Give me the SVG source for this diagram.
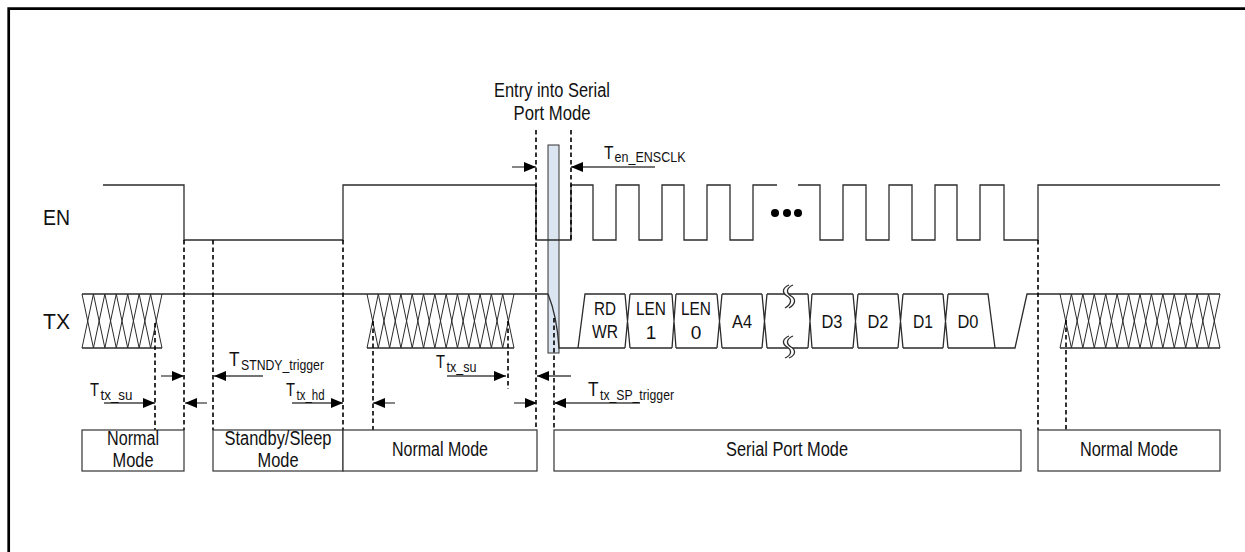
<svg xmlns="http://www.w3.org/2000/svg" width="1245" height="552" viewBox="0 0 1245 552">
<style>
.sig{fill:none;stroke:#2b2b2b;stroke-width:1.3}
.hatch{fill:none;stroke:#2b2b2b;stroke-width:1}
.dash{fill:none;stroke:#000;stroke-width:1.6;stroke-dasharray:4.5 3}
.arr{fill:none;stroke:#444;stroke-width:1.3;marker-end:url(#ah)}
.box{fill:#fff;stroke:#333;stroke-width:1.2}
.t{font-family:"Liberation Sans Narrow","Arial Narrow","Liberation Sans",Arial,sans-serif;fill:#111}
.m{font-size:20px;text-anchor:middle}
.d{font-size:19px;text-anchor:middle}
.T{font-size:18px}
.TL{font-size:21px}
.s{font-size:15px}
</style>
<defs>
<marker id="ah" markerUnits="userSpaceOnUse" viewBox="0 0 12 10" refX="12" refY="5" markerWidth="12" markerHeight="10" orient="auto">
<path d="M0 0 L12 5 L0 10 Z" fill="#000"/>
</marker>
</defs>
<path d="M8.7 552 V8.7 H1245" fill="none" stroke="#000" stroke-width="2.7"/>

<g id="entry-window">
<rect x="548" y="145" width="11" height="208" fill="#dbe5f1" stroke="#333" stroke-width="1"/>
</g>

<g id="signal-labels">
<text class="t" x="43" y="225" font-size="22" textLength="27" lengthAdjust="spacingAndGlyphs">EN</text>
<text class="t" x="43" y="329" font-size="22" textLength="27" lengthAdjust="spacingAndGlyphs">TX</text>
</g>

<g id="en-signal">
<path class="sig" d="M103 185 H184 V240 H343 V185 H536 V240 H571 V185 H593 V240 H616 V185 H639 V240 H662 V185 H684 V240 H707 V185 H730 V240 H753 V185 H777 M798 185 H820 V240 H843 V185 H866 V240 H889 V185 H912 V240 H935 V185 H957 V240 H980 V185 H1004 V240 H1038 V185 H1220"/>
<circle cx="775" cy="213" r="4" fill="#000"/>
<circle cx="787" cy="213" r="4" fill="#000"/>
<circle cx="798" cy="213" r="4" fill="#000"/>
</g>

<g id="tx-signal">
<path class="sig" d="M82 294 H548 M82 348 H162 M367 348 H514 M548 294 Q557 316 559 348 H578"/>
<polyline class="hatch" points="82,294 93.43,348 104.86,294 116.29,348 127.71,294 139.14,348 150.57,294 162,348"/>
<polyline class="hatch" points="82,348 93.43,294 104.86,348 116.29,294 127.71,348 139.14,294 150.57,348 162,294"/>
<polyline class="hatch" points="367,294 378.31,348 389.62,294 400.92,348 412.23,294 423.54,348 434.85,294 446.15,348 457.46,294 468.77,348 480.08,294 491.38,348 502.69,294 514,348"/>
<polyline class="hatch" points="367,348 378.31,294 389.62,348 400.92,294 412.23,348 423.54,294 434.85,348 446.15,294 457.46,348 468.77,294 480.08,348 491.38,294 502.69,348 514,294"/>
<path class="sig" d="M578 348 L585 294 H625 M630 294 H672 M676 294 H717 M722 294 H762 M767 294 H808 M812 294 H853 M858 294 H898 M903 294 H943 M948 294 H988 L995 348 M578 348 H625 M630 348 H672 M676 348 H717 M722 348 H762 M767 348 H808 M812 348 H853 M858 348 H898 M903 348 H943 M948 348 H1015 L1027 294 H1220 M1060 348 H1220 M625 294 L630 348 M625 348 L630 294 M672 294 L676 348 M672 348 L676 294 M717 294 L722 348 M717 348 L722 294 M762 294 L767 348 M762 348 L767 294 M808 294 L812 348 M808 348 L812 294 M853 294 L858 348 M853 348 L858 294 M898 294 L903 348 M898 348 L903 294 M943 294 L948 348 M943 348 L948 294"/>
<polyline class="hatch" points="1060,294 1071.43,348 1082.86,294 1094.29,348 1105.71,294 1117.14,348 1128.57,294 1140,348 1151.43,294 1162.86,348 1174.29,294 1185.71,348 1197.14,294 1208.57,348 1220,294"/>
<polyline class="hatch" points="1060,348 1071.43,294 1082.86,348 1094.29,294 1105.71,348 1117.14,294 1128.57,348 1140,294 1151.43,348 1162.86,294 1174.29,348 1185.71,294 1197.14,348 1208.57,294 1220,348"/>
<path d="M789 285 C782 288 782 293 787 296 C792 299 792 304 785 308 L789 308 C796 304 796 299 791 296 C786 293 786 288 793 285 Z" fill="#fff"/>
<path class="sig" d="M789 285 C782 288 782 293 787 296 C792 299 792 304 785 308 M793 285 C786 288 786 293 791 296 C796 299 796 304 789 308"/>
<path d="M789 336 C782 339 782 344 787 347 C792 350 792 355 785 358 L789 358 C796 355 796 350 791 347 C786 344 786 339 793 336 Z" fill="#fff"/>
<path class="sig" d="M789 336 C782 339 782 344 787 347 C792 350 792 355 785 358 M793 336 C786 339 786 344 791 347 C796 350 796 355 789 358"/>
<text class="t d" x="605" y="315" textLength="22" lengthAdjust="spacingAndGlyphs">RD</text>
<text class="t d" x="605" y="338" textLength="26" lengthAdjust="spacingAndGlyphs">WR</text>
<text class="t d" x="651" y="315" textLength="30" lengthAdjust="spacingAndGlyphs">LEN</text>
<text class="t d" x="651" y="339">1</text>
<text class="t d" x="696" y="315" textLength="30" lengthAdjust="spacingAndGlyphs">LEN</text>
<text class="t d" x="696" y="339">0</text>
<text class="t d" x="742" y="328" textLength="20" lengthAdjust="spacingAndGlyphs">A4</text>
<text class="t d" x="832" y="328" textLength="21" lengthAdjust="spacingAndGlyphs">D3</text>
<text class="t d" x="878" y="328" textLength="21" lengthAdjust="spacingAndGlyphs">D2</text>
<text class="t d" x="923" y="328" textLength="20" lengthAdjust="spacingAndGlyphs">D1</text>
<text class="t d" x="968" y="328" textLength="21" lengthAdjust="spacingAndGlyphs">D0</text>
</g>

<g id="connectors">
<line class="dash" x1="155" y1="323" x2="155" y2="430"/>
<line class="dash" x1="184" y1="240" x2="184" y2="430"/>
<line class="dash" x1="213" y1="240" x2="213" y2="430"/>
<line class="dash" x1="343" y1="240" x2="343" y2="430"/>
<line class="dash" x1="373" y1="321" x2="373" y2="430"/>
<line class="dash" x1="508" y1="321" x2="508" y2="389"/>
<line class="dash" x1="536" y1="130" x2="536" y2="430"/>
<line class="dash" x1="571" y1="130" x2="571" y2="240"/>
<line class="dash" x1="554" y1="318" x2="554" y2="430"/>
<line class="dash" x1="1038" y1="240" x2="1038" y2="430"/>
<line class="dash" x1="1066" y1="320" x2="1066" y2="430"/>
<line class="arr" x1="104" y1="403" x2="155" y2="403"/>
<line class="arr" x1="161" y1="376" x2="184" y2="376"/>
<line class="arr" x1="207" y1="403" x2="185" y2="403"/>
<line class="arr" x1="263" y1="376" x2="214" y2="376"/>
<line class="arr" x1="292" y1="403" x2="343" y2="403"/>
<line class="arr" x1="395" y1="403" x2="373" y2="403"/>
<line class="arr" x1="447" y1="376" x2="506" y2="376"/>
<line class="arr" x1="514" y1="403" x2="537" y2="403"/>
<line class="arr" x1="571" y1="376" x2="537" y2="376"/>
<line class="arr" x1="640" y1="403" x2="554" y2="403"/>
<line class="arr" x1="512" y1="167" x2="536" y2="167"/>
<line class="arr" x1="655" y1="167" x2="571" y2="167"/>
</g>

<g id="timing-labels">
<text class="t m" x="552" y="97" textLength="116" lengthAdjust="spacingAndGlyphs">Entry into Serial</text>
<text class="t m" x="552" y="120" textLength="77" lengthAdjust="spacingAndGlyphs">Port Mode</text>
<text class="t T" x="604" y="159" textLength="9.5" lengthAdjust="spacingAndGlyphs">T</text>
<text class="t s" x="614.5" y="162" textLength="71" lengthAdjust="spacingAndGlyphs">en_ENSCLK</text>
<text class="t TL" x="229" y="366" textLength="10.5" lengthAdjust="spacingAndGlyphs">T</text>
<text class="t s" x="241" y="370" textLength="83" lengthAdjust="spacingAndGlyphs">STNDY_trigger</text>
<text class="t T" x="90" y="396" textLength="9" lengthAdjust="spacingAndGlyphs">T</text>
<text class="t s" x="100.5" y="400" textLength="32" lengthAdjust="spacingAndGlyphs">tx_su</text>
<text class="t T" x="286" y="396" textLength="9" lengthAdjust="spacingAndGlyphs">T</text>
<text class="t s" x="296.5" y="400" textLength="28" lengthAdjust="spacingAndGlyphs">tx_hd</text>
<text class="t T" x="436" y="368" textLength="9" lengthAdjust="spacingAndGlyphs">T</text>
<text class="t s" x="446.5" y="372" textLength="30" lengthAdjust="spacingAndGlyphs">tx_su</text>
<text class="t TL" x="588" y="396" textLength="10.5" lengthAdjust="spacingAndGlyphs">T</text>
<text class="t s" x="600" y="400" textLength="74" lengthAdjust="spacingAndGlyphs">tx_SP_trigger</text>
</g>

<g id="mode-normal-1">
<rect class="box" x="82" y="430" width="102" height="41"/>
<text class="t m" x="133" y="445" textLength="52" lengthAdjust="spacingAndGlyphs">Normal</text>
<text class="t m" x="133" y="467" textLength="41" lengthAdjust="spacingAndGlyphs">Mode</text>
</g>
<g id="mode-standby">
<rect class="box" x="213" y="430" width="130" height="41"/>
<text class="t m" x="278" y="445" textLength="107" lengthAdjust="spacingAndGlyphs">Standby/Sleep</text>
<text class="t m" x="278" y="467" textLength="41" lengthAdjust="spacingAndGlyphs">Mode</text>
</g>
<g id="mode-normal-2">
<rect class="box" x="343" y="430" width="194" height="41"/>
<text class="t m" x="440" y="456" textLength="96" lengthAdjust="spacingAndGlyphs">Normal Mode</text>
</g>
<g id="mode-serial">
<rect class="box" x="554" y="430" width="467" height="41"/>
<text class="t m" x="787" y="456" textLength="122" lengthAdjust="spacingAndGlyphs">Serial Port Mode</text>
</g>
<g id="mode-normal-3">
<rect class="box" x="1038" y="430" width="182" height="41"/>
<text class="t m" x="1129" y="456" textLength="98" lengthAdjust="spacingAndGlyphs">Normal Mode</text>
</g>
</svg>
